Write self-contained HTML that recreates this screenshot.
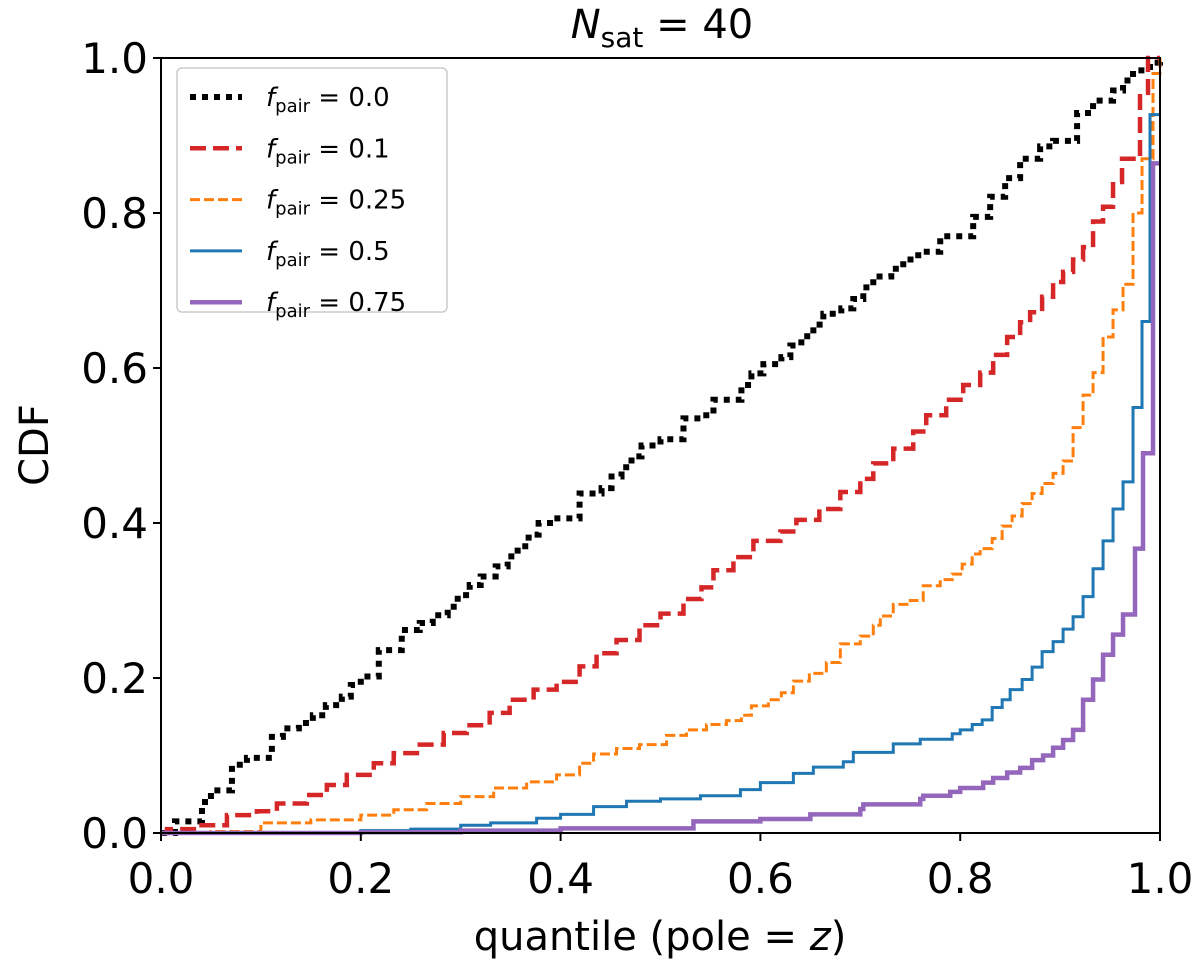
<!DOCTYPE html>
<html><head><meta charset="utf-8"><style>
body{margin:0;background:#fff;}
svg text{font-family:"DejaVu Sans","Liberation Sans",sans-serif;fill:#000;}
</style></head><body>
<svg id="chart" width="1200" height="965" viewBox="0 0 1200 965" xmlns="http://www.w3.org/2000/svg">
<g id="marks"></g>
<rect x="161" y="58" width="999" height="775" fill="none" stroke="#000" stroke-width="2"/>
<g id="ticks"></g>
<text x="662" y="38" font-size="40" text-anchor="middle"><tspan font-style="italic">N</tspan><tspan font-size="28" dy="9">sat</tspan><tspan dy="-9"> = 40</tspan></text>
<text x="660" y="950" font-size="40" text-anchor="middle">quantile (pole = <tspan font-style="italic">z</tspan>)</text>
<text transform="translate(48,445) rotate(-90)" font-size="40" text-anchor="middle">CDF</text>
<g id="legend">
<rect x="177" y="68" width="270" height="244" rx="5" fill="#fff" fill-opacity="0.85" stroke="#ccc" stroke-width="1.5"/>
</g>
</svg>
<script>
const xs0=[0,.014,.041,.05,.071,.086,.111,.122,.138,.152,.165,.181,.19,.2,.218,.241,.259,.272,.287,.297,.309,.32,.335,.347,.357,.368,.378,.393,.419,.441,.451,.461,.471,.481,.5,.523,.541,.553,.581,.591,.603,.621,.63,.641,.653,.663,.681,.693,.703,.713,.731,.743,.758,.78,.813,.83,.845,.86,.88,.893,.917,.933,.953,.963,.973,.99,1];
const ys0=[0,.015,.04,.055,.088,.097,.124,.135,.142,.152,.165,.176,.191,.202,.236,.262,.271,.281,.292,.307,.32,.331,.344,.357,.37,.385,.4,.406,.438,.445,.46,.472,.486,.5,.508,.535,.539,.559,.578,.593,.605,.614,.629,.641,.656,.67,.677,.689,.704,.718,.728,.74,.75,.77,.795,.821,.845,.87,.886,.893,.929,.945,.958,.971,.984,.994,1];
const xs1=[0,.006,.036,.066,.096,.116,.146,.166,.186,.213,.233,.259,.283,.306,.329,.349,.373,.396,.419,.436,.456,.479,.5,.523,.541,.553,.573,.593,.62,.636,.659,.68,.7,.713,.733,.753,.766,.786,.803,.82,.833,.847,.86,.87,.882,.893,.903,.913,.923,.933,.943,.953,.962,.98,.988,1];
const ys1=[0,.005,.01,.023,.028,.038,.049,.062,.075,.09,.103,.114,.129,.139,.155,.172,.185,.195,.215,.232,.249,.268,.283,.302,.317,.339,.356,.377,.389,.404,.418,.44,.457,.477,.496,.518,.539,.559,.578,.594,.617,.64,.659,.672,.692,.711,.724,.74,.756,.789,.808,.84,.87,.955,1,1];
const xs2=[0,.05,.1,.15,.2,.233,.266,.3,.333,.366,.396,.419,.433,.456,.479,.506,.526,.546,.566,.581,.591,.608,.621,.633,.649,.666,.68,.7,.713,.72,.733,.75,.763,.78,.792,.802,.812,.82,.832,.842,.852,.862,.872,.882,.893,.903,.913,.923,.933,.943,.953,.963,.973,.982,.993,1];
const ys2=[0,.002,.013,.017,.023,.03,.038,.047,.058,.066,.075,.09,.102,.109,.114,.126,.133,.14,.145,.152,.164,.172,.181,.196,.206,.22,.244,.254,.268,.28,.295,.3,.319,.327,.334,.347,.36,.367,.38,.396,.409,.425,.438,.451,.464,.48,.523,.565,.594,.64,.675,.708,.8,.87,.98,1];
const xs3=[0,.2,.25,.3,.33,.376,.4,.433,.466,.5,.54,.58,.6,.633,.653,.683,.693,.733,.76,.792,.8,.812,.822,.832,.842,.85,.862,.872,.882,.893,.903,.913,.923,.933,.943,.953,.963,.973,.982,.99,1];
const ys3=[0,.003,.005,.01,.013,.019,.024,.034,.041,.044,.048,.056,.065,.077,.085,.092,.104,.115,.121,.128,.133,.14,.146,.162,.172,.185,.198,.214,.234,.247,.263,.279,.305,.341,.377,.418,.453,.549,.66,.927,.927];
const xs4=[0,.2,.3,.4,.533,.6,.65,.7,.703,.76,.763,.79,.8,.823,.833,.847,.86,.872,.883,.893,.903,.913,.923,.933,.943,.953,.963,.975,.983,.993,1];
const ys4=[0,.001,.003,.006,.015,.018,.024,.031,.037,.044,.048,.053,.058,.065,.071,.078,.084,.094,.1,.11,.12,.133,.172,.198,.23,.256,.282,.367,.49,.864,.864];
const labels=["0.0","0.1","0.25","0.5","0.75"];
const tickVals=[0,0.2,0.4,0.6,0.8,1.0];
const tickLabels=["0.0","0.2","0.4","0.6","0.8","1.0"];
const NS="http://www.w3.org/2000/svg";
const X=v=>161+v*999, Y=v=>833-v*775;
const styles=[
 {c:"#000",w:6,d:"6,6",n:"series-fpair-0"},
 {c:"#d62728",w:4.5,d:"16,7",n:"series-fpair-0-1"},
 {c:"#ff7f0e",w:3,d:"10,4",n:"series-fpair-0-25"},
 {c:"#1f77b4",w:3,d:"",n:"series-fpair-0-5"},
 {c:"#9467bd",w:4.5,d:"",n:"series-fpair-0-75"}];
const series=[[xs0,ys0],[xs1,ys1],[xs2,ys2],[xs3,ys3],[xs4,ys4]];
const marks=document.getElementById('marks');
series.forEach((s,i)=>{
 const xs=s[0],ys=s[1];
 let d="M"+X(xs[0])+","+Y(ys[0]);
 for(let k=1;k<xs.length;k++){d+=" H"+X(xs[k])+" V"+Y(ys[k]);}
 const p=document.createElementNS(NS,'path');
 p.setAttribute('d',d);p.setAttribute('fill','none');p.setAttribute('stroke',styles[i].c);
 p.setAttribute('stroke-width',styles[i].w);if(styles[i].d)p.setAttribute('stroke-dasharray',styles[i].d);
 
 
 marks.appendChild(p);
});
const tk=document.getElementById('ticks');
tickVals.forEach((v,i)=>{
 const lx=document.createElementNS(NS,'line');
 lx.setAttribute('x1',X(v));lx.setAttribute('x2',X(v));lx.setAttribute('y1',833);lx.setAttribute('y2',841);lx.setAttribute('stroke','#000');lx.setAttribute('stroke-width',2);
 
 
 tk.appendChild(lx);
 const tx=document.createElementNS(NS,'text');
 tx.setAttribute('x',X(v));tx.setAttribute('y',893);tx.setAttribute('font-size',42);tx.setAttribute('text-anchor','middle');tx.textContent=tickLabels[i];
 
 
 tk.appendChild(tx);
 const ly=document.createElementNS(NS,'line');
 ly.setAttribute('x1',153);ly.setAttribute('x2',161);ly.setAttribute('y1',Y(v));ly.setAttribute('y2',Y(v));ly.setAttribute('stroke','#000');ly.setAttribute('stroke-width',2);
 
 
 tk.appendChild(ly);
 const ty=document.createElementNS(NS,'text');
 ty.setAttribute('x',148);ty.setAttribute('y',Y(v)+15);ty.setAttribute('font-size',42);ty.setAttribute('text-anchor','end');ty.textContent=tickLabels[i];
 
 
 tk.appendChild(ty);
});
const lg=document.getElementById('legend');
labels.forEach((l,i)=>{
 const y=97+i*51.3;
 const ln=document.createElementNS(NS,'line');
 ln.setAttribute('x1',190);ln.setAttribute('x2',242);ln.setAttribute('y1',y);ln.setAttribute('y2',y);
 ln.setAttribute('stroke',styles[i].c);ln.setAttribute('stroke-width',styles[i].w);if(styles[i].d)ln.setAttribute('stroke-dasharray',styles[i].d);
 
 
 lg.appendChild(ln);
 const t=document.createElementNS(NS,'text');
 t.setAttribute('x',266);t.setAttribute('y',y+9);t.setAttribute('font-size',26);
 t.innerHTML='<tspan font-style="italic">f</tspan><tspan font-size="18" dy="6">pair</tspan><tspan dy="-6"> = '+l+'</tspan>';
 
 
 lg.appendChild(t);
});
</script>
</body></html>
